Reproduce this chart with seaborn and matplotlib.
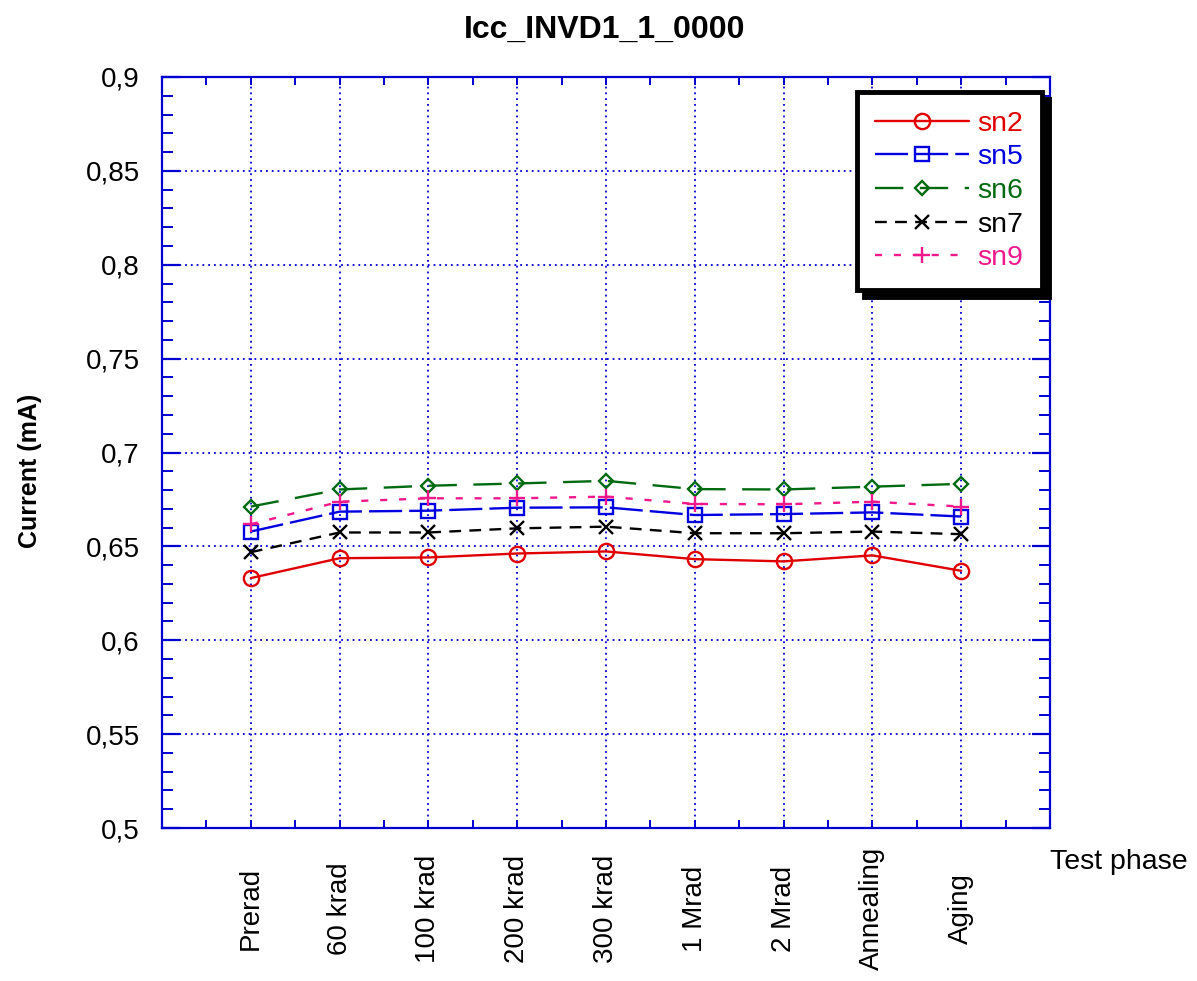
import matplotlib
matplotlib.use("Agg")
import matplotlib.pyplot as plt
import seaborn as sns
import numpy as np
import pandas as pd
from matplotlib.ticker import FixedLocator, FixedFormatter, MultipleLocator

# ---------------- data ----------------
phases = ["Prerad", "60 krad", "100 krad", "200 krad", "300 krad",
          "1 Mrad", "2 Mrad", "Annealing", "Aging"]
sn2 = [0.6331, 0.6437, 0.6441, 0.6462, 0.6473, 0.6432, 0.6420, 0.6452, 0.6370]
sn5 = [0.6579, 0.6685, 0.6690, 0.6706, 0.6708, 0.6667, 0.6672, 0.6681, 0.6659]
sn6 = [0.6712, 0.6803, 0.6823, 0.6835, 0.6849, 0.6805, 0.6803, 0.6818, 0.6833]
sn7 = [0.6469, 0.6574, 0.6574, 0.6596, 0.6605, 0.6570, 0.6570, 0.6579, 0.6565]
sn9 = [0.6618, 0.6738, 0.6756, 0.6756, 0.6765, 0.6726, 0.6724, 0.6738, 0.6712]
series_names = ["sn2", "sn5", "sn6", "sn7", "sn9"]
y_ticks = [0.5, 0.55, 0.6, 0.65, 0.7, 0.75, 0.8, 0.85, 0.9]
y_tick_labels = ["0,5", "0,55", "0,6", "0,65", "0,7", "0,75", "0,8", "0,85", "0,9"]

title = "Icc_INVD1_1_0000"
ylabel = "Current (mA)"
xlabel = "Test phase"

# ---------------- style ----------------
sns.set_style("white")
plt.rcParams["font.family"] = ["Liberation Sans", "DejaVu Sans"]
plt.rcParams["text.color"] = "black"
plt.rcParams["axes.labelcolor"] = "black"
plt.rcParams["xtick.labelcolor"] = "black"
plt.rcParams["ytick.labelcolor"] = "black"

styles = {
    "sn2": dict(color="#e00000", marker="o", ms=11, ls="-"),
    "sn5": dict(color="#0000e0", marker="s", ms=10, ls=(0, (14, 3))),
    "sn6": dict(color="#006a10", marker="D", ms=7.5, ls=(0, (12, 7))),
    "sn7": dict(color="#000000", marker="x", ms=10, ls=(0, (5, 3.5))),
    "sn9": dict(color="#f0188c", marker="+", ms=12, ls=(0, (3, 5))),
}
values = {"sn2": sn2, "sn5": sn5, "sn6": sn6, "sn7": sn7, "sn9": sn9}

fig = plt.figure(figsize=(11.97, 9.81), dpi=100)
ax = fig.add_axes([162 / 1197, 1 - 828 / 981, 888 / 1197, 751 / 981])

pos = np.arange(1, len(phases) + 1)
for name in series_names:
    st = styles[name]
    df = pd.DataFrame({"x": pos, "y": values[name]})
    sns.lineplot(data=df, x="x", y="y", ax=ax, color=st["color"],
                 marker=st["marker"], markersize=st["ms"],
                 markerfacecolor="none", markeredgecolor=st["color"],
                 markeredgewidth=1.7, linewidth=1.7, linestyle=st["ls"],
                 label=name, zorder=3)

ax.set_xlim(0, 10)
ax.set_ylim(0.5, 0.9)

blue = "#0000d0"
ax.xaxis.set_major_locator(FixedLocator(pos))
ax.xaxis.set_major_formatter(FixedFormatter(phases))
ax.xaxis.set_minor_locator(MultipleLocator(0.5))
ax.yaxis.set_major_locator(FixedLocator(y_ticks))
ax.yaxis.set_major_formatter(FixedFormatter(y_tick_labels))
ax.yaxis.set_minor_locator(MultipleLocator(0.01))

ax.grid(True, which="major", color=blue, linestyle=(0, (1, 2.2)), linewidth=1.3)
ax.set_axisbelow(True)
for sp in ax.spines.values():
    sp.set_color(blue)
    sp.set_linewidth(1.6)
    sp.set_visible(True)

ax.tick_params(axis="both", which="both", direction="in", color=blue,
               top=True, right=True, bottom=True, left=True)
ax.tick_params(axis="y", which="major", length=13, width=1.6, labelsize=20, pad=16)
ax.tick_params(axis="y", which="minor", length=8, width=1.4)
ax.tick_params(axis="x", which="major", length=6, width=1.4, labelsize=20, pad=58)
ax.tick_params(axis="x", which="minor", length=6, width=1.4)
for lab in ax.get_xticklabels():
    lab.set_rotation(90)
    lab.set_va("center")
    lab.set_ha("center")

ax.set_xlabel("")
ax.set_ylabel("")
fig.text(30 / 1197, 1 - 471 / 981, ylabel, rotation=90, fontsize=18,
         fontweight="bold", ha="center", va="center")
fig.text(1119 / 1197, 1 - 862 / 981, xlabel, fontsize=20.5, ha="center", va="center")
fig.text(605 / 1197, 1 - 30 / 981, title, fontsize=23, fontweight="bold",
         ha="center", va="center")

leg = ax.legend(loc="upper right", bbox_to_anchor=(0.991, 0.980),
                borderaxespad=0, fontsize=20.5, frameon=True, fancybox=False,
                edgecolor="black", labelcolor="linecolor", handlelength=3.3,
                handletextpad=0.3, labelspacing=0.27, borderpad=0.65,
                shadow={"ox": 5, "oy": -5, "color": "black", "alpha": 1})
leg.get_frame().set_linewidth(3.5)
leg.get_frame().set_facecolor("white")

fig.savefig("out.png", dpi=100)
